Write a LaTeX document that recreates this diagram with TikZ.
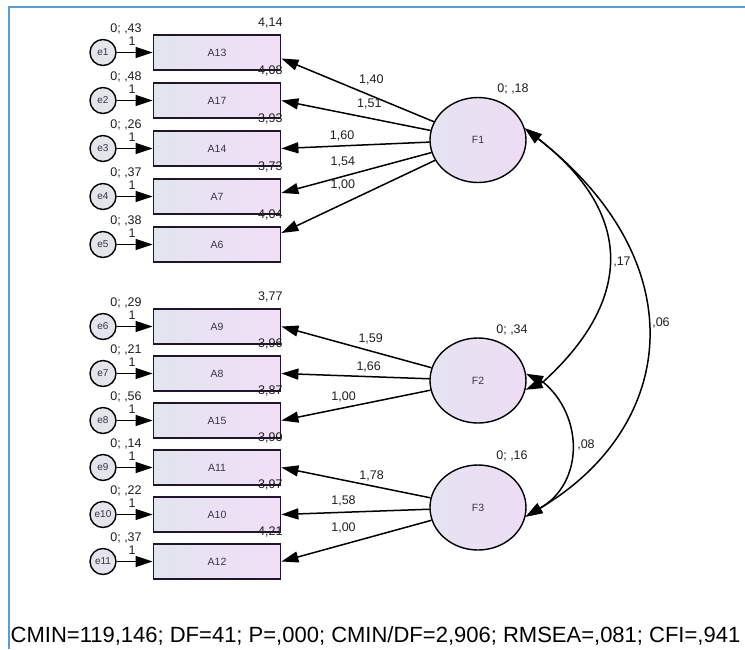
\documentclass[tikz,border=0pt]{standalone}
\usepackage{fontspec}
\setmainfont{Liberation Sans}
\usetikzlibrary{arrows.meta,shapes.geometric}

\definecolor{boxLeft}{RGB}{226,229,239}
\definecolor{boxRight}{RGB}{241,223,247}
\definecolor{boxLine}{RGB}{35,20,45}
\definecolor{facLeft}{RGB}{228,228,242}
\definecolor{facRight}{RGB}{238,220,244}
\definecolor{errFill}{RGB}{228,228,236}
\definecolor{nodeText}{RGB}{60,50,70}
\definecolor{labelText}{RGB}{30,30,30}
\definecolor{frameBlue}{RGB}{91,155,213}

\begin{document}
\begin{tikzpicture}[x=1pt, y=-1pt, >={Triangle[length=17pt,width=11pt]}]
  \tikzstyle{indicator} = [draw=boxLine, line width=1.8pt, rectangle, minimum width=127pt, minimum height=35pt, left color=boxLeft, right color=boxRight, node distance=48pt, font={\fontsize{10.5pt}{12pt}\selectfont}, text=nodeText]
  \tikzstyle{errorTerm} = [draw=black, line width=1.4pt, circle, minimum size=26pt, inner sep=0pt, fill=errFill, node distance=114pt, font={\fontsize{10pt}{12pt}\selectfont}, text=nodeText]
  \tikzstyle{factor} = [draw=black, line width=1.4pt, ellipse, minimum width=96pt, minimum height=85pt, inner sep=0pt, left color=facLeft, right color=facRight, font={\fontsize{10.5pt}{12pt}\selectfont}, text=nodeText]

  \tikzstyle{edgePortion} = [black, line width=1.5pt];
  \tikzstyle{loadingEdge} = [edgePortion, ->];
  \tikzstyle{errorEdge} = [edgePortion, ->];
  \tikzstyle{covEdge} = [edgePortion, <->];
  \tikzstyle{edgeLabel} = [inner sep=0pt, font={\fontsize{12.5pt}{14pt}\selectfont}, text=labelText];

  \useasboundingbox (0,0) rectangle (745,649);
  \draw[frameBlue, line width=2pt] (9,649) -- (9,7) -- (745,7);

  % observed items
  \node[indicator] (A13) at (217,52.5) {A13};
  \node[indicator] (A17) [below of=A13] {A17};
  \node[indicator] (A14) [below of=A17] {A14};
  \node[indicator] (A7)  [below of=A14] {A7};
  \node[indicator] (A6)  [below of=A7]  {A6};
  \node[indicator] (A9)  at (217,326.5) {A9};
  \node[indicator] (A8)  [below of=A9,  node distance=47pt] {A8};
  \node[indicator] (A15) [below of=A8,  node distance=47pt] {A15};
  \node[indicator] (A11) [below of=A15, node distance=47pt] {A11};
  \node[indicator] (A10) [below of=A11, node distance=47pt] {A10};
  \node[indicator] (A12) [below of=A10, node distance=47pt] {A12};

  % error terms
  \node[errorTerm] (e1)  [left of=A13] {e1};
  \node[errorTerm] (e2)  [left of=A17] {e2};
  \node[errorTerm] (e3)  [left of=A14] {e3};
  \node[errorTerm] (e4)  [left of=A7]  {e4};
  \node[errorTerm] (e5)  [left of=A6]  {e5};
  \node[errorTerm] (e6)  [left of=A9]  {e6};
  \node[errorTerm] (e7)  [left of=A8]  {e7};
  \node[errorTerm] (e8)  [left of=A15] {e8};
  \node[errorTerm] (e9)  [left of=A11] {e9};
  \node[errorTerm] (e10) [left of=A10] {e10};
  \node[errorTerm] (e11) [left of=A12] {e11};

  % factors
  \node[factor] (F1) at (478,140)   {F1};
  \node[factor] (F2) at (478,380.5) {F2};
  \node[factor] (F3) at (478,507.5) {F3};

  \path (e1) edge[errorEdge] (A13)
        (e2) edge[errorEdge] (A17)
        (e3) edge[errorEdge] (A14)
        (e4) edge[errorEdge] (A7)
        (e5) edge[errorEdge] (A6)
        (e6) edge[errorEdge] (A9)
        (e7) edge[errorEdge] (A8)
        (e8) edge[errorEdge] (A15)
        (e9) edge[errorEdge] (A11)
        (e10) edge[errorEdge] (A10)
        (e11) edge[errorEdge] (A12);

  % variances and weights of the error terms
  \node[edgeLabel] (e1v)  at ([xshift=23pt,yshift=24pt]e1)  {0; ,43};
  \node[edgeLabel] (e2v)  at ([xshift=23pt,yshift=24pt]e2)  {0; ,48};
  \node[edgeLabel] (e3v)  at ([xshift=23pt,yshift=24pt]e3)  {0; ,26};
  \node[edgeLabel] (e4v)  at ([xshift=23pt,yshift=24pt]e4)  {0; ,37};
  \node[edgeLabel] (e5v)  at ([xshift=23pt,yshift=24pt]e5)  {0; ,38};
  \node[edgeLabel] (e6v)  at ([xshift=23pt,yshift=24pt]e6)  {0; ,29};
  \node[edgeLabel] (e7v)  at ([xshift=23pt,yshift=24pt]e7)  {0; ,21};
  \node[edgeLabel] (e8v)  at ([xshift=23pt,yshift=24pt]e8)  {0; ,56};
  \node[edgeLabel] (e9v)  at ([xshift=23pt,yshift=24pt]e9)  {0; ,14};
  \node[edgeLabel] (e10v) at ([xshift=23pt,yshift=24pt]e10) {0; ,22};
  \node[edgeLabel] (e11v) at ([xshift=23pt,yshift=24pt]e11) {0; ,37};
  \node[edgeLabel] (e1w)  at ([xshift=29pt,yshift=11pt]e1)  {1};
  \node[edgeLabel] (e2w)  at ([xshift=29pt,yshift=11pt]e2)  {1};
  \node[edgeLabel] (e3w)  at ([xshift=29pt,yshift=11pt]e3)  {1};
  \node[edgeLabel] (e4w)  at ([xshift=29pt,yshift=11pt]e4)  {1};
  \node[edgeLabel] (e5w)  at ([xshift=29pt,yshift=11pt]e5)  {1};
  \node[edgeLabel] (e6w)  at ([xshift=29pt,yshift=11pt]e6)  {1};
  \node[edgeLabel] (e7w)  at ([xshift=29pt,yshift=11pt]e7)  {1};
  \node[edgeLabel] (e8w)  at ([xshift=29pt,yshift=11pt]e8)  {1};
  \node[edgeLabel] (e9w)  at ([xshift=29pt,yshift=11pt]e9)  {1};
  \node[edgeLabel] (e10w) at ([xshift=29pt,yshift=11pt]e10) {1};
  \node[edgeLabel] (e11w) at ([xshift=29pt,yshift=11pt]e11) {1};

  % intercepts
  \node[edgeLabel] (A13m) at ([xshift=-11pt,yshift=30pt]A13.east) {4,14};
  \node[edgeLabel] (A17m) at ([xshift=-11pt,yshift=30pt]A17.east) {4,08};
  \node[edgeLabel] (A14m) at ([xshift=-11pt,yshift=30pt]A14.east) {3,93};
  \node[edgeLabel] (A7m)  at ([xshift=-11pt,yshift=30pt]A7.east)  {3,73};
  \node[edgeLabel] (A6m)  at ([xshift=-11pt,yshift=30pt]A6.east)  {4,04};
  \node[edgeLabel] (A9m)  at ([xshift=-11pt,yshift=30pt]A9.east)  {3,77};
  \node[edgeLabel] (A8m)  at ([xshift=-11pt,yshift=30pt]A8.east)  {3,96};
  \node[edgeLabel] (A15m) at ([xshift=-11pt,yshift=30pt]A15.east) {3,87};
  \node[edgeLabel] (A11m) at ([xshift=-11pt,yshift=30pt]A11.east) {3,90};
  \node[edgeLabel] (A10m) at ([xshift=-11pt,yshift=30pt]A10.east) {3,97};
  \node[edgeLabel] (A12m) at ([xshift=-11pt,yshift=30pt]A12.east) {4,21};

  % loadings
  \path (F1) edge[loadingEdge] node[edgeLabel, name=l13, pos=0.41, yshift=16pt] {1,40} ([yshift=-6pt]A13.east)
        (F1) edge[loadingEdge] node[edgeLabel, name=l17, pos=0.41, yshift=14pt] {1,51} (A17.east)
        (F1) edge[loadingEdge] node[edgeLabel, name=l14, pos=0.59, yshift=10pt] {1,60} (A14.east)
        (F1) edge[loadingEdge] node[edgeLabel, name=l7,  pos=0.59, yshift=14pt] {1,54} ([yshift=3.5pt]A7.east)
        (F1) edge[loadingEdge] node[edgeLabel, name=l6,  pos=0.60, yshift=19pt] {1,00} ([yshift=11.5pt]A6.east)
        (F2) edge[loadingEdge] node[edgeLabel, name=l9,  pos=0.405, yshift=12pt] {1,59} (A9.east)
        (F2) edge[loadingEdge] node[edgeLabel, name=l8,  pos=0.41, yshift=10pt] {1,66} (A8.east)
        (F2) edge[loadingEdge] node[edgeLabel, name=l15, pos=0.583, yshift=11pt] {1,00} (A15.east)
        (F3) edge[loadingEdge] node[edgeLabel, name=l11, pos=0.395, yshift=10pt] {1,78} (A11.east)
        (F3) edge[loadingEdge] node[edgeLabel, name=l10, pos=0.58, yshift=11pt] {1,58} (A10.east)
        (F3) edge[loadingEdge] node[edgeLabel, name=l12, pos=0.586, yshift=17pt] {1,00} (A12.east);

  % factor variances
  \node[edgeLabel] (F1v) at ([xshift=35pt,yshift=51pt]F1) {0; ,18};
  \node[edgeLabel] (F2v) at ([xshift=34pt,yshift=50.5pt]F2) {0; ,34};
  \node[edgeLabel] (F3v) at ([xshift=34pt,yshift=51.5pt]F3) {0; ,16};

  % covariances
  \coordinate (F2j) at (543,382);
  \draw[covEdge] (F1.14) .. controls (640,218) and (628,305) .. (F2j) -- (F2.8);
  \draw[covEdge] (F2.-11) -- (F2j) .. controls (583,415) and (585,482) .. (F3.-11);
  \draw[covEdge] (F1.14) .. controls (697,263) and (677,427) .. (F3.-11);
  \node[edgeLabel] (c12) at (622,262) {,17};
  \node[edgeLabel] (c23) at (586,445) {,08};
  \node[edgeLabel] (c13) at (661,323) {,06};

  \node[anchor=base west, inner sep=0pt, font={\fontsize{22pt}{26pt}\selectfont}] (fitLine) at (10.5,642) {CMIN=119,146; DF=41; P=,000; CMIN/DF=2,906; RMSEA=,081; CFI=,941};
\end{tikzpicture}
\end{document}
